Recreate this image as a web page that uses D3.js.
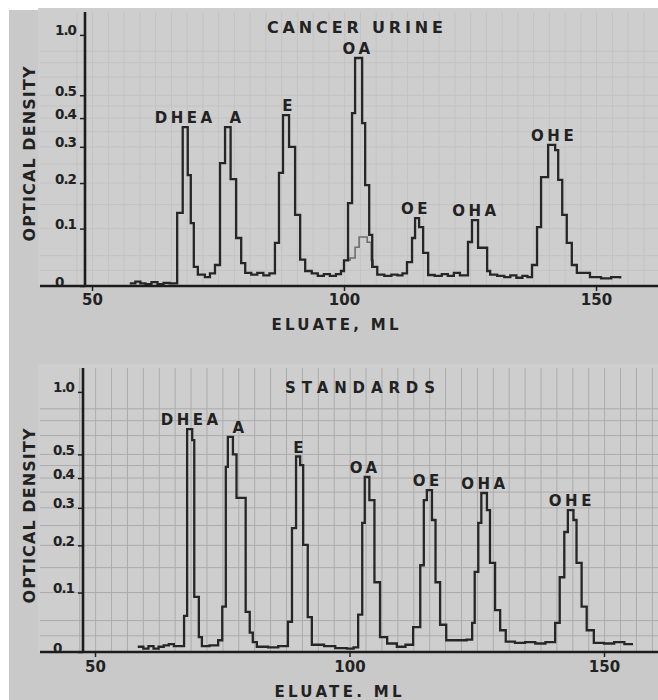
<!DOCTYPE html>
<html>
<head>
<meta charset="utf-8">
<script src="https://cdn.jsdelivr.net/npm/d3@7"></script>
<style>
  body { margin: 0; background: #fff; }
  svg text { font-family: "DejaVu Sans", sans-serif; font-weight: bold; fill: #222; }
</style>
</head>
<body>
<script>
// eluate volume (ml) where each recorded step begins, and optical density of that step
const cancerMl = [57.5, 58.6, 59.6, 60.6, 61.8, 63.0, 64.2, 65.4, 66.9, 68.0, 69.0, 69.6, 70.2, 71.0, 72.4, 73.4, 74.4, 75.4, 76.4, 77.5, 78.6, 79.6, 80.4, 81.6, 82.8, 84.0, 85.2, 86.3, 87.1, 87.9, 89.1, 90.3, 91.3, 92.3, 93.6, 94.8, 96.0, 97.2, 98.4, 99.4, 100.0, 100.8, 101.6, 102.2, 103.6, 104.2, 105.0, 105.6, 106.6, 108.0, 109.4, 110.6, 111.6, 112.5, 113.5, 114.1, 114.9, 115.7, 116.7, 118.0, 119.4, 120.6, 121.8, 123.0, 124.6, 125.4, 126.6, 128.4, 129.0, 130.4, 131.8, 133.0, 134.2, 135.4, 136.4, 137.3, 138.3, 139.1, 140.5, 141.9, 142.5, 143.3, 144.2, 145.2, 146.2, 148.8, 151.0, 153.0, 154.8];
const cancerOd = [0.004, 0.007, 0.004, 0.003, 0.006, 0.003, 0.005, 0.004, 0.132, 0.366, 0.22, 0.111, 0.031, 0.018, 0.014, 0.020, 0.034, 0.252, 0.366, 0.21, 0.082, 0.037, 0.021, 0.018, 0.021, 0.017, 0.020, 0.073, 0.226, 0.412, 0.30, 0.128, 0.043, 0.024, 0.020, 0.016, 0.019, 0.016, 0.019, 0.024, 0.042, 0.153, 0.42, 0.738, 0.381, 0.195, 0.088, 0.031, 0.018, 0.016, 0.018, 0.017, 0.02, 0.039, 0.082, 0.121, 0.103, 0.055, 0.0175, 0.016, 0.019, 0.016, 0.021, 0.017, 0.0745, 0.117, 0.064, 0.024, 0.018, 0.016, 0.014, 0.017, 0.013, 0.016, 0.014, 0.034, 0.103, 0.215, 0.306, 0.29, 0.208, 0.128, 0.073, 0.034, 0.021, 0.014, 0.012, 0.014, 0.012];

// faint second trace under the OA peak (cancer urine)
const cancerInnerMl = [100.8, 101.2, 102.2, 103.0, 104.6, 105.4, 105.8];
const cancerInnerOd = [0.042, 0.046, 0.065, 0.084, 0.074, 0.042, 0.03];

const standardsMl = [58.4, 59.5, 60.5, 61.5, 62.5, 63.5, 64.5, 65.5, 67.5, 68.1, 69.1, 69.5, 70.4, 71.0, 72.5, 74.2, 75.0, 75.7, 76.1, 77.1, 77.8, 79.6, 80.4, 81.0, 81.8, 84.0, 86.0, 87.9, 88.7, 89.5, 90.3, 90.9, 91.8, 92.6, 95.0, 97.2, 99.5, 100.8, 101.7, 102.5, 103.0, 103.9, 104.9, 106.0, 107.4, 109.3, 111.0, 112.5, 113.9, 114.6, 115.2, 116.2, 116.9, 117.8, 119.0, 121.0, 123.0, 124.1, 124.6, 125.3, 125.9, 127.0, 127.6, 128.6, 129.6, 130.7, 132.5, 134.5, 136.5, 138.5, 140.4, 141.3, 142.2, 142.9, 144.0, 144.6, 145.6, 146.6, 148.0, 150.0, 152.0, 154.0, 155.7];
const standardsOd = [0.008, 0.005, 0.009, 0.005, 0.008, 0.010, 0.012, 0.009, 0.058, 0.641, 0.574, 0.092, 0.023, 0.009, 0.010, 0.018, 0.074, 0.444, 0.592, 0.50, 0.331, 0.065, 0.030, 0.015, 0.008, 0.007, 0.009, 0.048, 0.243, 0.49, 0.452, 0.201, 0.056, 0.011, 0.009, 0.006, 0.005, 0.007, 0.06, 0.257, 0.404, 0.324, 0.12, 0.023, 0.013, 0.008, 0.011, 0.039, 0.155, 0.324, 0.357, 0.265, 0.12, 0.043, 0.018, 0.018, 0.019, 0.046, 0.141, 0.257, 0.347, 0.2935, 0.16, 0.068, 0.034, 0.016, 0.014, 0.015, 0.013, 0.015, 0.046, 0.13, 0.233, 0.2935, 0.265, 0.16, 0.074, 0.034, 0.014, 0.013, 0.015, 0.012, 0.012];

const peakNames = ['DHEA', 'A', 'E', 'OA', 'OE', 'OHA', 'OHE'];
const cancerLabelMl = [68.1, 78.4, 88.7, 102.4, 113.9, 125.8, 141.3];
const standardsLabelMl = [68.5, 78.1, 89.9, 102.7, 115.0, 126.2, 143.3];

const odTicks = [0, 0.1, 0.2, 0.3, 0.4, 0.5, 1.0];
const odGrid = [0.025, 0.05, 0.1, 0.15, 0.2, 0.25, 0.3, 0.35, 0.4, 0.45, 0.5, 0.6, 0.7, 0.8];
const mlTicks = [50, 100, 150];

const width = 658;
const height = 700;

const svg = d3.select('body').append('svg')
    .attr('width', width)
    .attr('height', height);

svg.append('rect')
    .attr('x', 9).attr('y', 10)
    .attr('width', width - 9).attr('height', height - 10)
    .attr('fill', '#c9c9c9');

// optical density -> transmittance, the chart paper is linear in transmittance
const tr = od => Math.pow(10, -od);

const drawPanel = (p) => {
    const x = d3.scaleLinear().domain([50, 150]).range([p.x50, p.x150]);
    const y = d3.scaleLinear().domain([1, 0]).range([p.base, p.base - p.k]);

    const g = svg.append('g');

    g.append('rect')
        .attr('x', 38).attr('y', p.top - 4)
        .attr('width', width - 38).attr('height', p.base - p.top + 4)
        .attr('fill', '#cecece');

    // paper grid
    const vLines = d3.range(47, 160, 50 / 16);
    g.selectAll('.vgrid')
        .data(vLines)
        .join('line')
            .attr('class', 'vgrid')
            .attr('stroke', p.gridColor)
            .attr('x1', d => x(d)).attr('x2', d => x(d))
            .attr('y1', p.top).attr('y2', p.base);

    g.selectAll('.hgrid')
        .data(odGrid)
        .join('line')
            .attr('class', 'hgrid')
            .attr('stroke', p.gridColor)
            .attr('x1', 40).attr('x2', width)
            .attr('y1', d => y(tr(d))).attr('y2', d => y(tr(d)));

    // traces
    const line = d3.line()
        .x(d => x(d[0]))
        .y(d => y(tr(d[1])))
        .curve(d3.curveStepAfter);

    if (p.innerMl) {
        g.append('path')
            .datum(d3.zip(p.innerMl, p.innerOd))
            .attr('fill', 'none')
            .attr('stroke', '#6e6e6e')
            .attr('stroke-width', 1.6)
            .attr('d', line);
    }

    g.append('path')
        .datum(d3.zip(p.ml, p.od))
        .attr('fill', 'none')
        .attr('stroke', '#262626')
        .attr('stroke-width', 2.3)
        .attr('stroke-linejoin', 'miter')
        .attr('d', line);

    // axes
    const yAxis = g.append('g')
        .attr('transform', `translate(${p.axisX},0)`)
        .call(d3.axisLeft(y)
            .tickValues(odTicks.map(tr))
            .tickFormat((d, i) => odTicks[i] === 0 ? '0' : d3.format('.1f')(odTicks[i]))
            .tickSize(5)
            .tickSizeOuter(0));
    yAxis.select('.domain').remove();
    yAxis.selectAll('.tick line').attr('stroke', '#222').attr('stroke-width', 1.5);
    yAxis.selectAll('.tick text')
        .attr('text-anchor', 'start')
        .attr('x', -30)
        .attr('dy', 0)
        .attr('font-size', 13.5)
        .attr('letter-spacing', -1)
        .attr('fill', '#222');

    g.append('line')
        .attr('x1', p.axisX).attr('x2', p.axisX)
        .attr('y1', p.top).attr('y2', p.base)
        .attr('stroke', '#1c1c1c').attr('stroke-width', 2.6);

    const xAxis = g.append('g')
        .attr('transform', `translate(0,${p.base})`)
        .call(d3.axisBottom(x)
            .tickValues(mlTicks)
            .tickFormat(d3.format('d'))
            .tickSize(5)
            .tickPadding(6)
            .tickSizeOuter(0));
    xAxis.select('.domain').remove();
    xAxis.selectAll('.tick line').attr('stroke', '#222').attr('stroke-width', 1.5);
    xAxis.selectAll('.tick text')
        .attr('font-size', 15)
        .attr('dy', 0)
        .attr('y', p.tickLabelOffset)
        .attr('fill', '#222');

    g.append('line')
        .attr('x1', 40).attr('x2', width)
        .attr('y1', p.base).attr('y2', p.base)
        .attr('stroke', '#1c1c1c').attr('stroke-width', 2.6);

    // peak labels, just above each peak top
    const peaks = peakNames.map((name, i) => {
        const lm = p.labelMl[i];
        const top = d3.max(p.ml.map((m, j) => (m >= lm - 3 && m <= lm + 3) ? p.od[j] : 0));
        return {name, ml: lm, od: top};
    });
    g.selectAll('.peak')
        .data(peaks)
        .join('text')
            .attr('class', 'peak')
            .attr('text-anchor', 'middle')
            .attr('font-size', 15)
            .attr('letter-spacing', 3.5)
            .attr('x', d => x(d.ml) + 2)
            .attr('y', d => y(tr(d.od)) - 4)
            .text(d => d.name);

    g.append('text')
        .attr('text-anchor', 'middle')
        .attr('font-size', p.titleSize)
        .attr('x', p.titleX).attr('y', p.titleY)
        .attr('textLength', p.titleLen)
        .attr('lengthAdjust', 'spacing')
        .text(p.title);

    g.append('text')
        .attr('text-anchor', 'middle')
        .attr('font-size', 15)
        .attr('x', p.xLabelX).attr('y', p.xLabelY)
        .attr('textLength', 127)
        .attr('lengthAdjust', 'spacing')
        .text(p.xLabel);

    g.append('text')
        .attr('text-anchor', 'middle')
        .attr('font-size', 16)
        .attr('transform', `translate(35,${p.yLabelY}) rotate(-90)`)
        .attr('textLength', 175)
        .attr('lengthAdjust', 'spacing')
        .text('OPTICAL DENSITY');
};

drawPanel({
    ml: cancerMl, od: cancerOd, innerMl: cancerInnerMl, innerOd: cancerInnerOd,
    labelMl: cancerLabelMl,
    x50: 92, x150: 596, base: 286, k: 279, top: 12, axisX: 85,
    gridColor: '#c3c3c3', tickLabelOffset: 19,
    title: 'CANCER URINE', titleX: 355, titleY: 33, titleSize: 16, titleLen: 176,
    xLabel: 'ELUATE, ML', xLabelX: 335, xLabelY: 330, yLabelY: 154
});

drawPanel({
    ml: standardsMl, od: standardsOd,
    labelMl: standardsLabelMl,
    x50: 95, x150: 604, base: 652, k: 289, top: 368, axisX: 83,
    gridColor: '#acacac', tickLabelOffset: 20,
    title: 'STANDARDS', titleX: 360, titleY: 393, titleSize: 15, titleLen: 150,
    xLabel: 'ELUATE. ML', xLabelX: 338, xLabelY: 697, yLabelY: 516
});
</script>
</body>
</html>
